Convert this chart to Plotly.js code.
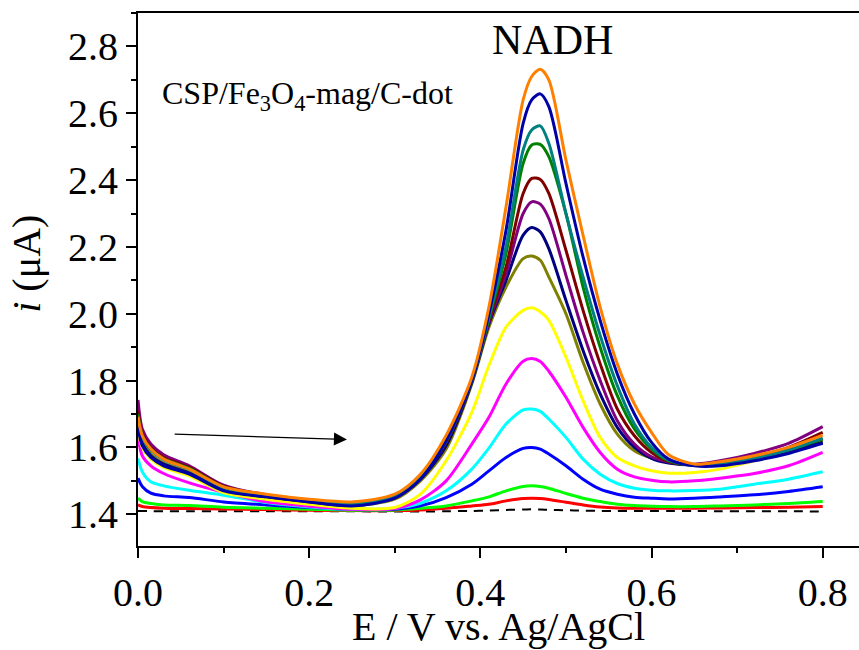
<!DOCTYPE html>
<html><head><meta charset="utf-8">
<script src="https://cdn.plot.ly/plotly-3.0.1.min.js"></script>
<style>html,body{margin:0;padding:0;background:#fff}#chart{width:859px;height:650px}</style>
</head><body><div id="chart"></div>
<script>
// Potential (V vs Ag/AgCl)
const potential = [0, 0.005, 0.015, 0.03, 0.06, 0.1, 0.15, 0.2, 0.25, 0.3, 0.33, 0.36, 0.39, 0.41, 0.43, 0.45, 0.46, 0.47, 0.48, 0.5, 0.52, 0.54, 0.56, 0.58, 0.6, 0.62, 0.65, 0.68, 0.72, 0.76, 0.8];

// Current (µA) for each NADH concentration
const iBlank   = [1.410,1.410,1.409,1.409,1.409,1.409,1.409,1.409,1.409,1.408,1.408,1.409,1.410,1.411,1.413,1.414,1.415,1.414,1.413,1.412,1.411,1.410,1.410,1.410,1.410,1.410,1.410,1.409,1.409,1.409,1.408];
const iRed     = [1.428,1.423,1.420,1.418,1.417,1.416,1.414,1.412,1.411,1.411,1.413,1.418,1.425,1.430,1.440,1.447,1.448,1.447,1.444,1.436,1.428,1.422,1.419,1.418,1.418,1.418,1.418,1.419,1.420,1.421,1.423];
const iGreen   = [1.448,1.438,1.432,1.428,1.426,1.421,1.418,1.415,1.412,1.413,1.418,1.425,1.440,1.452,1.470,1.483,1.485,1.483,1.478,1.462,1.448,1.438,1.430,1.426,1.424,1.423,1.423,1.425,1.428,1.432,1.438];
const iBlue    = [1.508,1.483,1.463,1.455,1.450,1.437,1.428,1.420,1.414,1.415,1.425,1.450,1.490,1.530,1.570,1.597,1.600,1.595,1.580,1.545,1.505,1.475,1.460,1.451,1.448,1.446,1.448,1.452,1.458,1.468,1.482];
const iCyan    = [1.567,1.527,1.497,1.485,1.472,1.457,1.435,1.422,1.415,1.418,1.433,1.470,1.535,1.598,1.670,1.712,1.715,1.708,1.685,1.630,1.565,1.520,1.492,1.478,1.472,1.470,1.471,1.475,1.490,1.505,1.527];
const iMagenta = [1.635,1.575,1.545,1.522,1.494,1.466,1.437,1.424,1.415,1.417,1.443,1.500,1.610,1.690,1.790,1.858,1.866,1.857,1.828,1.750,1.660,1.585,1.535,1.512,1.502,1.497,1.500,1.508,1.522,1.545,1.585];
const iYellow  = [1.650,1.600,1.565,1.540,1.515,1.465,1.445,1.430,1.418,1.420,1.460,1.560,1.705,1.845,1.960,2.010,2.018,2.006,1.980,1.870,1.740,1.630,1.570,1.545,1.530,1.523,1.525,1.535,1.560,1.585,1.620];
const iOlive   = [1.680,1.620,1.580,1.553,1.525,1.474,1.452,1.437,1.426,1.445,1.500,1.595,1.790,1.960,2.080,2.165,2.173,2.160,2.110,2.000,1.855,1.730,1.640,1.590,1.568,1.555,1.547,1.550,1.565,1.590,1.620];
const iNavy    = [1.670,1.612,1.575,1.550,1.523,1.473,1.453,1.438,1.427,1.450,1.505,1.605,1.795,1.970,2.100,2.235,2.258,2.245,2.195,2.040,1.890,1.760,1.660,1.600,1.567,1.553,1.547,1.552,1.565,1.590,1.615];
const iPurple  = [1.742,1.655,1.610,1.578,1.545,1.487,1.458,1.443,1.435,1.455,1.510,1.620,1.800,1.975,2.120,2.300,2.335,2.328,2.285,2.115,1.945,1.800,1.680,1.610,1.572,1.556,1.550,1.560,1.582,1.612,1.662];
const iMaroon  = [1.710,1.640,1.600,1.570,1.540,1.484,1.457,1.442,1.433,1.453,1.510,1.615,1.800,1.980,2.140,2.360,2.405,2.402,2.360,2.190,2.010,1.850,1.715,1.635,1.585,1.558,1.548,1.555,1.572,1.600,1.645];
const iGreen2  = [1.700,1.635,1.595,1.566,1.537,1.482,1.456,1.441,1.432,1.452,1.510,1.618,1.800,1.985,2.180,2.450,2.505,2.507,2.470,2.300,2.080,1.900,1.755,1.655,1.595,1.560,1.547,1.552,1.568,1.592,1.625];
const iTeal    = [1.690,1.630,1.592,1.563,1.534,1.480,1.455,1.440,1.431,1.452,1.510,1.620,1.800,1.990,2.200,2.490,2.550,2.562,2.510,2.300,2.110,1.935,1.785,1.670,1.600,1.562,1.547,1.552,1.567,1.592,1.628];
const iDarkBlue= [1.660,1.605,1.570,1.545,1.520,1.470,1.452,1.437,1.425,1.448,1.505,1.620,1.800,2.000,2.250,2.570,2.640,2.658,2.620,2.390,2.170,1.980,1.820,1.700,1.615,1.565,1.545,1.545,1.560,1.582,1.612];
const iOrange  = [1.692,1.635,1.595,1.565,1.535,1.482,1.460,1.445,1.437,1.460,1.520,1.636,1.810,2.020,2.320,2.640,2.710,2.732,2.700,2.460,2.235,2.020,1.850,1.730,1.645,1.578,1.550,1.557,1.575,1.600,1.637];

const tickValsX = [0, 0.2, 0.4, 0.6, 0.8];
const tickTextX = ['0.0', '0.2', '0.4', '0.6', '0.8'];
const tickValsY = [1.4, 1.6, 1.8, 2.0, 2.2, 2.4, 2.6, 2.8];
const tickTextY = ['1.4', '1.6', '1.8', '2.0', '2.2', '2.4', '2.6', '2.8'];

const seriesList = [iBlank, iRed, iGreen, iBlue, iCyan, iMagenta, iYellow, iOlive, iNavy, iPurple, iMaroon, iGreen2, iTeal, iDarkBlue, iOrange];
const seriesColors = ['#000000', '#FF0000', '#00FF00', '#0000FF', '#00FFFF', '#FF00FF', '#FFFF00', '#808000', '#000080', '#800080', '#800000', '#008000', '#008080', '#0000A8', '#FF8000'];

const FONT = 'Liberation Serif, Times New Roman, serif';

const traces = seriesList.map((ys, k) => ({
  x: potential, y: ys, type: 'scatter', mode: 'lines',
  line: {color: seriesColors[k], width: k === 0 ? 2 : 3, shape: 'spline', smoothing: 0.8, dash: k === 0 ? '9px,7px' : 'solid'},
  hoverinfo: 'skip', showlegend: false
}));

const layout = {
  width: 859, height: 650,
  margin: {l: 138, r: 0, t: 13, b: 104},
  paper_bgcolor: '#fff', plot_bgcolor: '#fff',
  font: {family: FONT, color: '#000'},
  showlegend: false,
  xaxis: {
    range: [0, 0.8424], tickvals: tickValsX, ticktext: tickTextX,
    ticks: 'outside', ticklen: 10, tickwidth: 2, tickcolor: '#000',
    showline: true, linecolor: '#000', linewidth: 2, mirror: true,
    showgrid: false, zeroline: false,
    tickfont: {family: FONT, size: 40, color: '#000'},
    minor: {dtick: 0.1, tick0: 0, ticks: 'outside', ticklen: 5, tickwidth: 2, tickcolor: '#000', showgrid: false},
    automargin: false
  },
  yaxis: {
    range: [1.305, 2.9], tickvals: tickValsY, ticktext: tickTextY,
    ticks: 'outside', ticklen: 10, tickwidth: 2, tickcolor: '#000',
    showline: true, linecolor: '#000', linewidth: 2, mirror: false,
    showgrid: false, zeroline: false,
    tickfont: {family: FONT, size: 40, color: '#000'},
    minor: {dtick: 0.1, tick0: 0, ticks: 'outside', ticklen: 5, tickwidth: 2, tickcolor: '#000', showgrid: false},
    automargin: false
  },
  annotations: [
    {x: 0.5, y: -0.151, xref: 'paper', yref: 'paper', text: 'E / V vs. Ag/AgCl', showarrow: false,
     xanchor: 'center', yanchor: 'middle', font: {family: FONT, size: 40, color: '#000'}},
    {x: -0.155, y: 0.53, xref: 'paper', yref: 'paper', text: '<i>i</i> (μA)', textangle: -90, showarrow: false,
     xanchor: 'center', yanchor: 'middle', font: {family: FONT, size: 40, color: '#000'}},
    {x: 0.484, y: 2.820, xref: 'x', yref: 'y', text: 'NADH', showarrow: false,
     xanchor: 'center', yanchor: 'middle', font: {family: FONT, size: 42, color: '#000'}},
    {x: 0.026, y: 2.653, xref: 'x', yref: 'y', text: 'CSP/Fe<sub>3</sub>O<sub>4</sub>-mag/C-dot', showarrow: false,
     xanchor: 'left', yanchor: 'middle', font: {family: FONT, size: 32, color: '#000'}},
    {x: 0.2441, y: 1.624, ax: 0.0411, ay: 1.640, xref: 'x', yref: 'y', axref: 'x', ayref: 'y',
     text: '', showarrow: true, arrowhead: 2, arrowsize: 2, arrowwidth: 1.3, arrowcolor: '#000'}
  ]
};

Plotly.newPlot('chart', traces, layout, {displayModeBar: false, staticPlot: true});
</script>
</body></html>
